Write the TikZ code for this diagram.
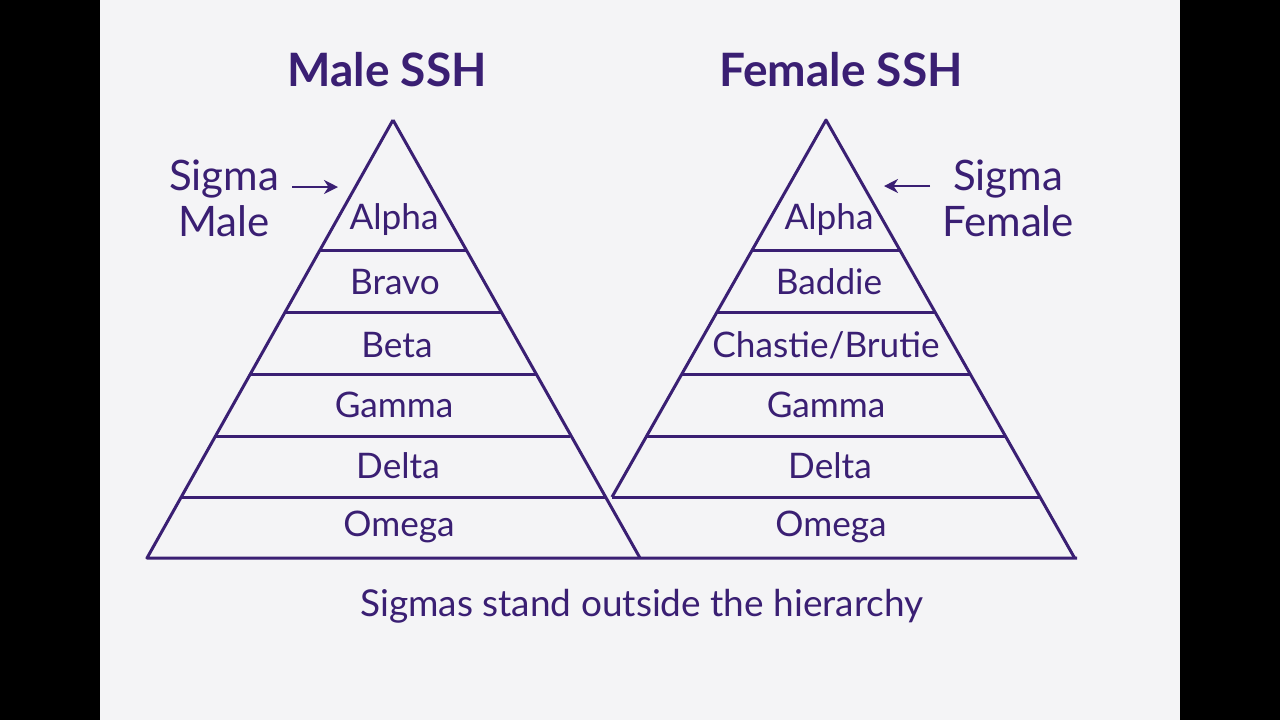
\documentclass[tikz,border=0pt]{standalone}
\usepackage{fontspec}
\setmainfont{Lato}
\usetikzlibrary{arrows.meta,positioning}
\definecolor{ink}{HTML}{3A1F73}
\definecolor{paper}{HTML}{F4F4F6}
\tikzset{
    edge/.style={draw=ink, line width=1.5pt, line join=round},
    level/.style={text=ink, font=\fontsize{17.6}{20}\selectfont, inner sep=0pt},
    title/.style={text=ink, font=\bfseries\fontsize{23}{26}\selectfont, inner sep=0pt},
    sigma/.style={text=ink, font=\fontsize{21}{23}\selectfont, inner sep=0pt, align=center},
    pointer/.style={draw=ink, line width=1.4pt, -{Stealth[length=7pt,width=7pt]}}
}
\begin{document}
\begin{tikzpicture}[x=0.5pt,y=-0.5pt]
    \def\s{0.5616}
    \def\t{0.5676}
    \useasboundingbox (0,0) rectangle (1280,720);
    \fill[black] (0,0) rectangle (1280,720);
    \fill[paper] (100,0) rectangle (1180,720);
    % left pyramid
    \coordinate (la) at (393,120);
    \draw[edge] (la) -- (147,558) -- (1077,558);
    \draw[edge] (la) -- (640,558);
    \foreach \y in {250,312,374,436,497}{
        \draw[edge] ({393-\s*(\y-120)},\y) -- ({393+\s*(\y-120)},\y);
    }
    % right pyramid
    \coordinate (ra) at (826,120);
    \draw[edge] ({826-\t*377},497) -- (ra) -- ({826+\t*438},558);
    \foreach \y in {250,312,374,436,497}{
        \draw[edge] ({826-\t*(\y-120)},\y) -- ({826+\t*(\y-120)},\y);
    }
    % titles
    \node[title] (mt) at (387,70) {Male SSH};
    \node[title] (ft) at (841,70) {Female SSH};
    % levels
    \node[level] (m1) at (394,220) {Alpha};
    \node[level] (m2) at (395,282) {Bravo};
    \node[level] (m3) at (397,345) {Beta};
    \node[level] (m4) at (394,405) {Gamma};
    \node[level] (m5) at (398,466) {Delta};
    \node[level] (m6) at (399,527) {Omega};
    \node[level] (f1) at (829,220) {Alpha};
    \node[level] (f2) at (829,282) {Baddie};
    \node[level] (f3) at (826,345) {Chastie/Brutie};
    \node[level] (f4) at (826,405) {Gamma};
    \node[level] (f5) at (830,466) {Delta};
    \node[level] (f6) at (831,527) {Omega};
    % sigmas
    \node[sigma] (sm) at (224,198) {Sigma\\Male};
    \node[sigma, anchor=west] (sf) at (942,198) {Sigma\\Female};
    \coordinate (smA) at (292,187);
    \coordinate (smB) at (338,187);
    \coordinate (sfA) at (930,186);
    \coordinate (sfB) at (884,186);
    \draw[pointer] (smA) -- (smB);
    \draw[pointer] (sfA) -- (sfB);
    \node[level, font=\fontsize{18.5}{20}\selectfont] (note) at (642,606) {Sigmas stand outside the hierarchy};
\end{tikzpicture}
\end{document}
